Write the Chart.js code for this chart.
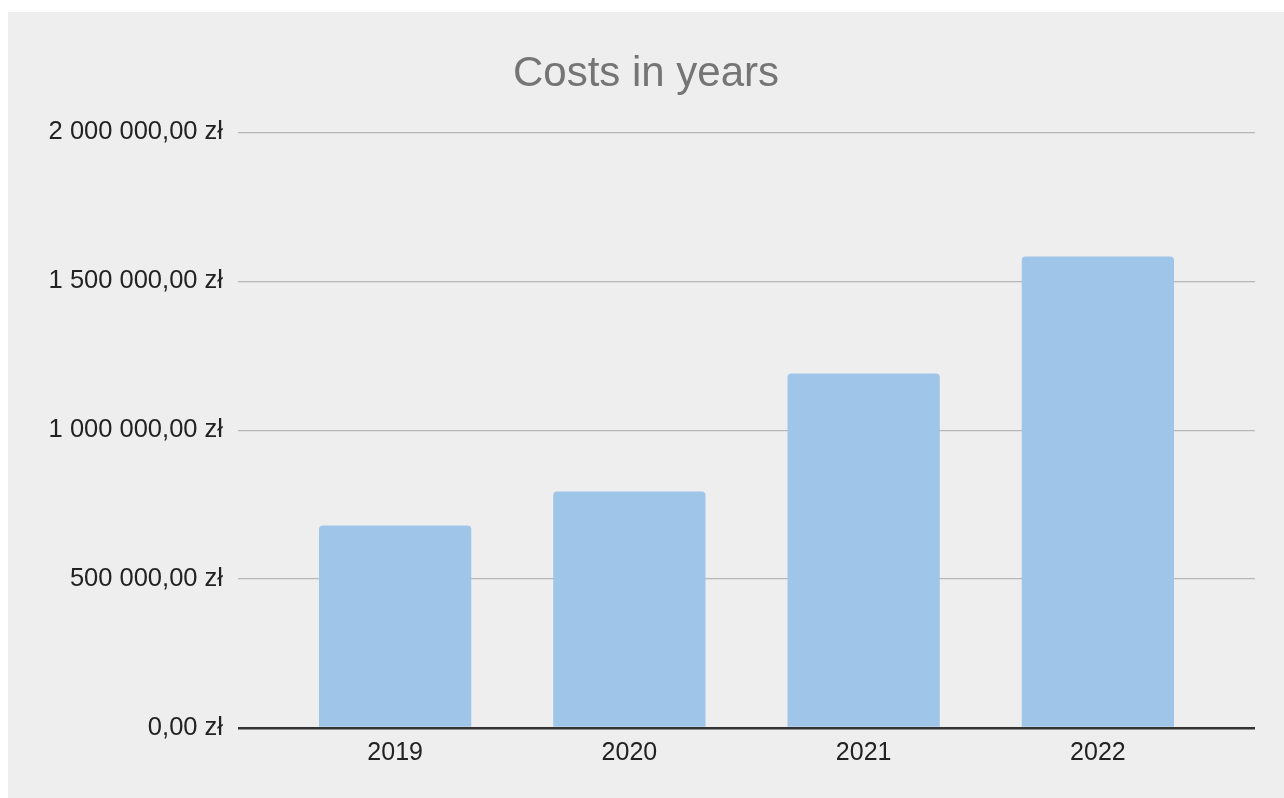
<!DOCTYPE html>
<html>
<head>
<meta charset="utf-8">
<script src="https://cdn.jsdelivr.net/npm/chart.js@4/dist/chart.umd.min.js"></script>
<style>
  html, body { margin: 0; padding: 0; background: #ffffff; }
  #wrap { position: absolute; left: 8px; top: 12px; width: 1276px; height: 786px; background: #eeeeee; }
  canvas { display: block; }
</style>
</head>
<body>
<div id="wrap"><canvas id="c" width="1276" height="786"></canvas></div>
<script>
const categories = ['2019', '2020', '2021', '2022'];
const costs = [680000, 794000, 1190000, 1583000];
const yTicks = [0, 500000, 1000000, 1500000, 2000000];
const chartTitle = 'Costs in years';

function formatZl(v) {
  const s = Math.round(v).toString().replace(/\B(?=(\d{3})+(?!\d))/g, ' ');
  return s + ',00 zł';
}

const gridColor = ctx => (ctx.tick && ctx.tick.value === 0) ? '#333333' : '#b7b7b7';
const gridWidth = ctx => (ctx.tick && ctx.tick.value === 0) ? 2.5 : 1.3;

Chart.defaults.font.family = '"Liberation Sans", Arial, sans-serif';

new Chart(document.getElementById('c'), {
  type: 'bar',
  data: {
    labels: categories,
    datasets: [{
      data: costs,
      backgroundColor: '#9fc5e8',
      borderWidth: 0,
      borderRadius: { topLeft: 4, topRight: 4, bottomLeft: 0, bottomRight: 0 },
      borderSkipped: 'bottom',
      categoryPercentage: 1.0,
      barPercentage: 0.65
    }]
  },
  options: {
    responsive: false,
    animation: false,
    layout: { padding: { top: 0, left: 0, right: 0, bottom: 0 } },
    plugins: {
      legend: { display: false },
      tooltip: { enabled: false },
      title: {
        display: true,
        text: chartTitle,
        color: '#757575',
        font: { size: 42, weight: 'normal' },
        padding: { top: 37, bottom: 33 }
      }
    },
    scales: {
      x: {
        grid: { display: false, drawTicks: false },
        border: { display: false },
        ticks: { color: '#222222', font: { size: 25 }, padding: 10 },
        afterFit: s => { s.height = 70; }
      },
      y: {
        position: 'left',
        min: yTicks[0],
        max: yTicks[yTicks.length - 1],
        afterBuildTicks: s => { s.ticks = yTicks.map(v => ({ value: v })); },
        grid: { color: gridColor, lineWidth: gridWidth, drawTicks: true, tickLength: 40 },
        border: { display: false },
        ticks: { color: '#222222', font: { size: 25.5 }, padding: 15, callback: v => formatZl(v) },
        afterFit: s => { s.width = 270; }
      },
      y2: {
        position: 'right',
        min: yTicks[0],
        max: yTicks[yTicks.length - 1],
        afterBuildTicks: s => { s.ticks = yTicks.map(v => ({ value: v })); },
        grid: { color: gridColor, lineWidth: gridWidth, drawOnChartArea: false, drawTicks: true, tickLength: 40 },
        border: { display: false },
        ticks: { display: false },
        afterFit: s => { s.width = 69; }
      }
    }
  }
});
</script>
</body>
</html>
